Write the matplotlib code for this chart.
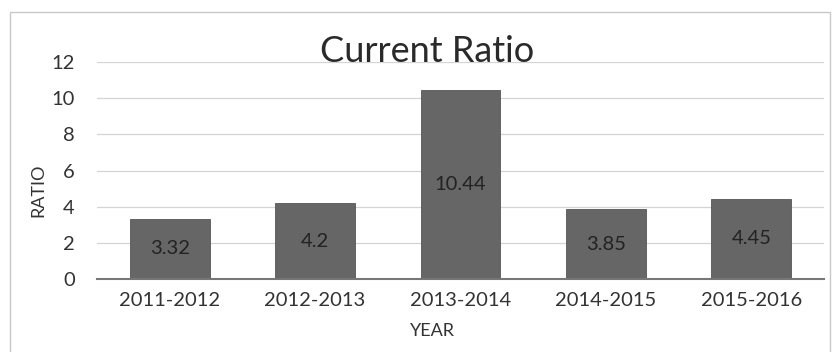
import matplotlib
matplotlib.use("Agg")
import matplotlib.pyplot as plt
from matplotlib.patches import Rectangle

plt.rcParams["font.family"] = ["Lato", "DejaVu Sans"]

# ── data ─────────────────────────────────────────────
years = ["2011-2012", "2012-2013", "2013-2014", "2014-2015", "2015-2016"]
ratio = [3.32, 4.2, 10.44, 3.85, 4.45]
ratio_labels = ["3.32", "4.2", "10.44", "3.85", "4.45"]
yticks = [0, 2, 4, 6, 8, 10, 12]

fig = plt.figure(figsize=(8.34, 3.52), dpi=100)
fig.patches.append(Rectangle((10 / 834, -0.01), 820 / 834, 1 - 12 / 352 + 0.01,
                             transform=fig.transFigure, fill=False,
                             edgecolor="#c8c8c8", lw=1.0))

ax = fig.add_axes([97 / 834, 1 - 279 / 352, 727 / 834, 217 / 352])
x = range(len(years))
bars = ax.bar(x, ratio, width=0.55, color="#666666", edgecolor="#555555", lw=0.6, zorder=3)
for b, lab in zip(bars, ratio_labels):
    ax.text(b.get_x() + b.get_width() / 2, b.get_height() / 2, lab,
            ha="center", va="center", fontsize=14.5, color="#222222", zorder=4)

ax.set_ylim(0, 12)
ax.set_xlim(-0.5, len(years) - 0.5)
ax.set_yticks(yticks)
ax.set_xticks(list(x))
ax.set_xticklabels(years)
ax.tick_params(length=0, labelsize=14.5, colors="#333333")
ax.tick_params(axis="x", pad=9)
ax.tick_params(axis="y", pad=16)
ax.grid(axis="y", color="#d4d4d4", lw=0.9, zorder=0)
for s in ("top", "right", "left"):
    ax.spines[s].set_visible(False)
ax.spines["bottom"].set_color("#777777")
ax.spines["bottom"].set_linewidth(1.5)
ax.spines["bottom"].set_zorder(5)

fig.text(38 / 834, 1 - 190 / 352, "RATIO", rotation=90, ha="center", va="center",
         fontsize=13, color="#333333")
fig.text(432 / 834, 1 - 331 / 352, "YEAR", ha="center", va="center",
         fontsize=13, color="#333333")
fig.text(427 / 834, 1 - 52 / 352, "Current Ratio", ha="center", va="center",
         fontsize=26, color="#2a2a2a")

fig.savefig("out.png", dpi=100)
